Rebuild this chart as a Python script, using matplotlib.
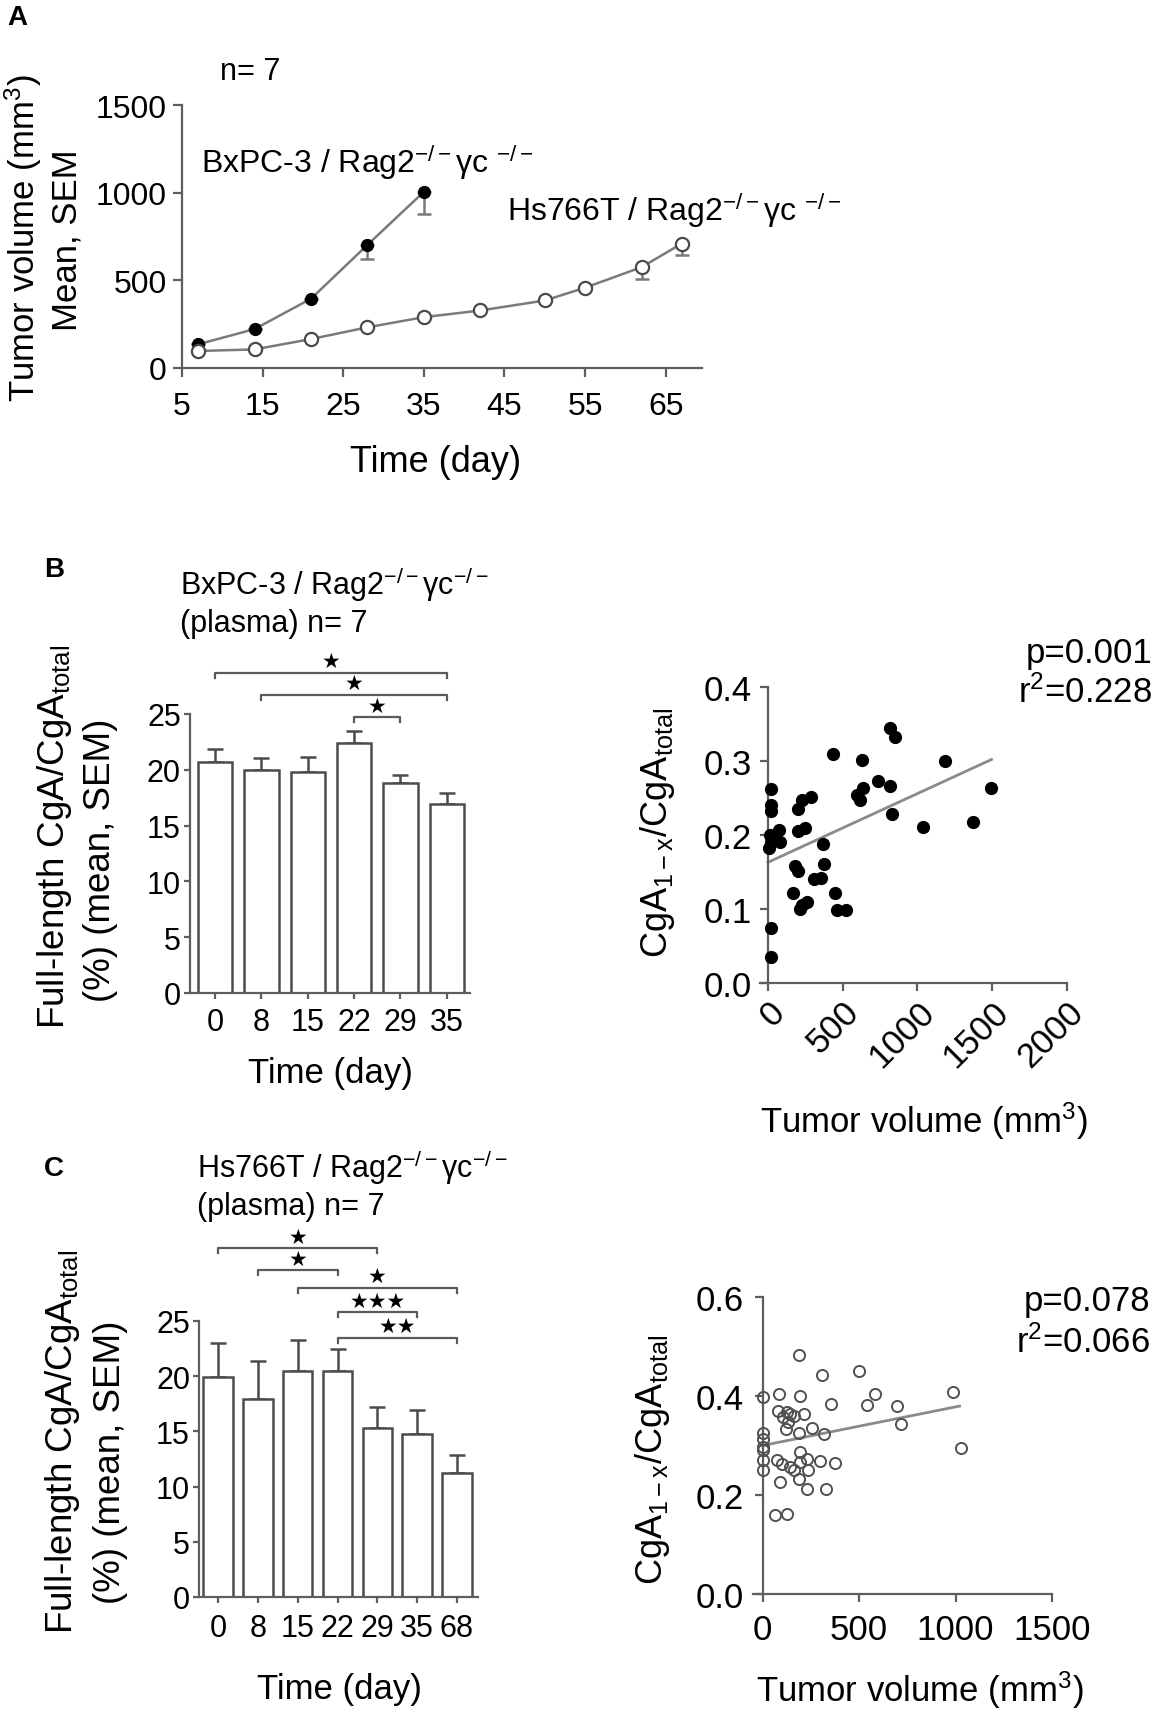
import numpy as np
import matplotlib
matplotlib.use('Agg')
import matplotlib.pyplot as plt

plt.rcParams['font.family'] = ['Liberation Sans', 'DejaVu Sans']
plt.rcParams['mathtext.fontset'] = 'custom'
plt.rcParams['mathtext.rm'] = 'Liberation Sans'
plt.rcParams['mathtext.it'] = 'Liberation Sans:italic'
plt.rcParams['mathtext.default'] = 'regular'

# ---------------- data ----------------
# Panel A: tumor growth (mean, lower SEM)
days_bx = [7, 14, 21, 28, 35]
vol_bx = [135, 222, 395, 702, 1005]
sem_bx = [0, 0, 0, 80, 125]
days_hs = [7, 14, 21, 28, 35, 42, 50, 55, 62, 67]
vol_hs = [97, 106, 165, 232, 290, 328, 385, 458, 575, 710]
sem_hs = [0, 0, 0, 0, 0, 0, 0, 0, 65, 68]

# Panel B bars
days_b = ['0', '8', '15', '22', '29', '35']
mean_b = [20.7, 20.0, 19.8, 22.4, 18.8, 16.9]
sem_b = [1.2, 1.1, 1.35, 1.1, 0.7, 1.05]
brackets_b = [(0, 5, 28.7, '★'), (1, 5, 26.7, '★'), (3, 4, 24.7, '★')]

# Panel C bars
days_c = ['0', '8', '15', '22', '29', '35', '68']
mean_c = [19.9, 17.9, 20.5, 20.5, 15.3, 14.75, 11.2]
sem_c = [3.1, 3.45, 2.8, 2.0, 1.9, 2.15, 1.65]
brackets_c = [(0, 4, 31.6, '★'), (1, 3, 29.6, '★'), (2, 6, 28.0, '★'),
              (3, 5, 25.8, '★★★'), (3, 6, 23.5, '★★')]

# Panel B scatter
vol_sb = [19, 19, 19, 12, 19, 5, 19, 19, 71, 83, 48, 179, 198, 167, 226, 262, 214,
          202, 226, 286, 202, 250, 310, 357, 369, 376, 433, 448, 464, 524, 631, 595,
          614, 638, 733, 814, 814, 852, 829, 1036, 1186, 1369, 1495]
ratio_sb = [0.262, 0.240, 0.233, 0.200, 0.190, 0.183, 0.075, 0.035, 0.207, 0.190,
            0.197, 0.158, 0.151, 0.122, 0.106, 0.109, 0.100, 0.235, 0.247, 0.252,
            0.205, 0.209, 0.140, 0.142, 0.188, 0.161, 0.309, 0.122, 0.099, 0.099,
            0.301, 0.254, 0.247, 0.264, 0.273, 0.266, 0.345, 0.333, 0.228, 0.211,
            0.300, 0.218, 0.263]
fit_b = (0.163, 9.3e-5)      # intercept, slope
fit_b_range = [0, 1495]

# Panel C scatter
vol_sc = [0, 0, 0, 0, 0, 0, 0, 87, 82, 108, 125, 143, 160, 134, 122, 186, 195, 212,
          186, 256, 320, 355, 308, 499, 581, 543, 699, 717, 986, 1030, 73, 99, 143,
          90, 64, 125, 195, 230, 235, 186, 230, 296, 374, 330, 195, 160]
ratio_sc = [0.397, 0.325, 0.297, 0.291, 0.271, 0.250, 0.313, 0.405, 0.370, 0.357,
            0.367, 0.363, 0.360, 0.347, 0.333, 0.483, 0.400, 0.363, 0.325, 0.335,
            0.323, 0.383, 0.443, 0.451, 0.404, 0.381, 0.380, 0.343, 0.408, 0.295,
            0.270, 0.263, 0.257, 0.227, 0.160, 0.162, 0.287, 0.273, 0.250, 0.233,
            0.213, 0.268, 0.265, 0.212, 0.267, 0.250]
fit_c = (0.300, 7.8e-5)
fit_c_range = [0, 1021]

# ---------------- figure ----------------
W, H = 1159, 1715
fig = plt.figure(figsize=(W / 100, H / 100), dpi=100)
AX = '#5e5e5e'
LN = '#7a7a7a'
PT = 0.72  # points per pixel at 100 dpi


def ax_px(l, t, r, b):
    return fig.add_axes([l / W, 1 - b / H, (r - l) / W, (b - t) / H])


def ftxt(x, y, s, **kw):
    fig.text(x / W, 1 - y / H, s, **kw)


def style(ax, fs, tl=8, xpad=6, ypad=6):
    for s in ['top', 'right']:
        ax.spines[s].set_visible(False)
    for s in ['left', 'bottom']:
        ax.spines[s].set_color(AX)
        ax.spines[s].set_linewidth(1.6)
    ax.tick_params(direction='out', length=tl * PT, width=1.6, color=AX,
                   labelsize=fs)
    ax.tick_params(axis='x', pad=xpad * PT)
    ax.tick_params(axis='y', pad=ypad * PT)


# ---- Panel A ----
axA = ax_px(182, 106, 702, 369)
style(axA, 23, tl=9, xpad=14, ypad=6)
axA.errorbar(days_bx, vol_bx, yerr=[sem_bx, np.zeros(len(sem_bx))], fmt='none',
             ecolor=LN, elinewidth=1.8, capsize=4.7, capthick=1.8, zorder=2)
axA.errorbar(days_hs, vol_hs, yerr=[sem_hs, np.zeros(len(sem_hs))], fmt='none',
             ecolor=LN, elinewidth=1.8, capsize=4.7, capthick=1.8, zorder=2)
axA.plot(days_bx, vol_bx, '-', color=LN, lw=1.8, marker='o', ms=8.5,
         mfc='black', mec='black', zorder=3)
axA.plot(days_hs, vol_hs, '-', color=LN, lw=1.8, marker='o', ms=9.5,
         mfc='white', mec='#4a4a4a', mew=1.6, zorder=3)
axA.set_xlim(5, 69.5)
axA.set_ylim(0, 1500)
axA.set_xticks(range(5, 66, 10))
axA.set_yticks([0, 500, 1000, 1500])

ftxt(7, 5, 'A', fontsize=20, weight='bold', va='top')
ftxt(220, 72, 'n= 7', fontsize=22, va='center')
ftxt(201, 162, 'BxPC-3 / Rag2$^{-/-}$γc $^{-/-}$', fontsize=23, va='center')
ftxt(507, 210, 'Hs766T / Rag2$^{-/-}$γc $^{-/-}$', fontsize=23, va='center')
ftxt(23, 238, 'Tumor volume (mm$^{3}$)', fontsize=25, rotation=90,
     ha='center', va='center')
ftxt(67, 240, 'Mean, SEM', fontsize=25, rotation=90, ha='center', va='center')
ftxt(436, 462, 'Time (day)', fontsize=26, ha='center', va='center')


def bar_panel(ax, labels, means, sems, brackets):
    x = np.arange(len(labels))
    ax.bar(x, means, width=0.74, color='white', edgecolor='#4c4c4c',
           linewidth=1.8, zorder=2)
    ax.errorbar(x, means, yerr=[np.zeros(len(sems)), sems], fmt='none',
                ecolor='#4c4c4c', elinewidth=1.8, capsize=5.5, capthick=1.8,
                zorder=1)
    ax.set_xticks(x)
    ax.set_xticklabels(labels)
    ax.set_ylim(0, 25)
    ax.set_yticks([0, 5, 10, 15, 20, 25])
    for i, j, y, s in brackets:
        ax.plot([i, i, j, j], [y - 0.45, y, y, y - 0.45], color='#5a5a5a',
                lw=1.6, clip_on=False)
        ax.text((i + j) / 2, y + 1.05, s, ha='center', va='center',
                fontsize=15, family='DejaVu Sans', clip_on=False)


# ---- Panel B bars ----
axB = ax_px(190, 715, 470, 994)
style(axB, 22, tl=6, xpad=8, ypad=3)
bar_panel(axB, days_b, mean_b, sem_b, brackets_b)
axB.set_xlim(-0.54, 5.5)
ftxt(54, 570, 'B', fontsize=20, weight='bold', va='center', ha='center')
ftxt(180, 585, 'BxPC-3 / Rag2$^{-/-}$γc$^{-/-}$', fontsize=22, va='center')
ftxt(180, 624, '(plasma) n= 7', fontsize=22, va='center')
ftxt(55, 837, 'Full-length CgA/CgA$_{total}$', fontsize=26.5, rotation=90,
     ha='center', va='center')
ftxt(100, 860, '(%) (mean, SEM)', fontsize=26.5, rotation=90,
     ha='center', va='center')
ftxt(330, 1074, 'Time (day)', fontsize=25, ha='center', va='center')

# ---- Panel B scatter ----
axS1 = ax_px(760, 688, 1067, 984)
style(axS1, 25, tl=8, xpad=4, ypad=8)
axS1.plot(vol_sb, ratio_sb, 'o', color='black', ms=8.5, zorder=3, clip_on=False)
xf = np.array(fit_b_range)
axS1.plot(xf, fit_b[0] + fit_b[1] * xf, '-', color='#8a8a8a', lw=2, zorder=2)
axS1.set_xlim(-53, 2000)
axS1.set_ylim(0, 0.4)
axS1.spines['left'].set_position(('data', 0))
axS1.set_xticks([0, 500, 1000, 1500, 2000])
axS1.set_yticks([0.0, 0.1, 0.2, 0.3, 0.4])
axS1.set_yticklabels(['0.0', '0.1', '0.2', '0.3', '0.4'])
for lab in axS1.get_xticklabels():
    lab.set_rotation(45)
    lab.set_ha('right')
    lab.set_rotation_mode('anchor')
ftxt(924, 1121, 'Tumor volume (mm$^{3}$)', fontsize=25, ha='center', va='center')
ftxt(658, 833, 'CgA$_{1-x}$/CgA$_{total}$', fontsize=26, rotation=90,
     ha='center', va='center')
ftxt(1152, 653, 'p=0.001', fontsize=25, ha='right', va='center')
ftxt(1152, 693, 'r$^{2}$=0.228', fontsize=25, ha='right', va='center')

# ---- Panel C bars ----
axC = ax_px(199, 1322, 478, 1598)
style(axC, 22, tl=6, xpad=10, ypad=3)
bar_panel(axC, days_c, mean_c, sem_c, brackets_c)
axC.set_xlim(-0.48, 6.53)
ftxt(54, 1169, 'C', fontsize=20, weight='bold', va='center', ha='center')
ftxt(197, 1168, 'Hs766T / Rag2$^{-/-}$γc$^{-/-}$', fontsize=22, va='center')
ftxt(197, 1207, '(plasma) n= 7', fontsize=22, va='center')
ftxt(63, 1442, 'Full-length CgA/CgA$_{total}$', fontsize=26.5, rotation=90,
     ha='center', va='center')
ftxt(110, 1462, '(%) (mean, SEM)', fontsize=26.5, rotation=90,
     ha='center', va='center')
ftxt(339, 1690, 'Time (day)', fontsize=25, ha='center', va='center')

# ---- Panel C scatter ----
axS2 = ax_px(753, 1298, 1052, 1595)
style(axS2, 25, tl=8, xpad=11, ypad=11)
axS2.plot(vol_sc, ratio_sc, 'o', mfc='none', mec='#505050', mew=1.4, ms=8,
          zorder=3, clip_on=False)
xf = np.array(fit_c_range)
axS2.plot(xf, fit_c[0] + fit_c[1] * xf, '-', color='#8a8a8a', lw=2, zorder=2)
axS2.set_xlim(-50, 1500)
axS2.set_ylim(0, 0.6)
axS2.spines['left'].set_position(('data', 0))
axS2.set_xticks([0, 500, 1000, 1500])
axS2.set_yticks([0.0, 0.2, 0.4, 0.6])
axS2.set_yticklabels(['0.0', '0.2', '0.4', '0.6'])
ftxt(920, 1690, 'Tumor volume (mm$^{3}$)', fontsize=25, ha='center', va='center')
ftxt(652, 1460, 'CgA$_{1-x}$/CgA$_{total}$', fontsize=26, rotation=90,
     ha='center', va='center')
ftxt(1150, 1302, 'p=0.078', fontsize=25, ha='right', va='center')
ftxt(1150, 1343, 'r$^{2}$=0.066', fontsize=25, ha='right', va='center')

fig.savefig('out.png', dpi=100)
